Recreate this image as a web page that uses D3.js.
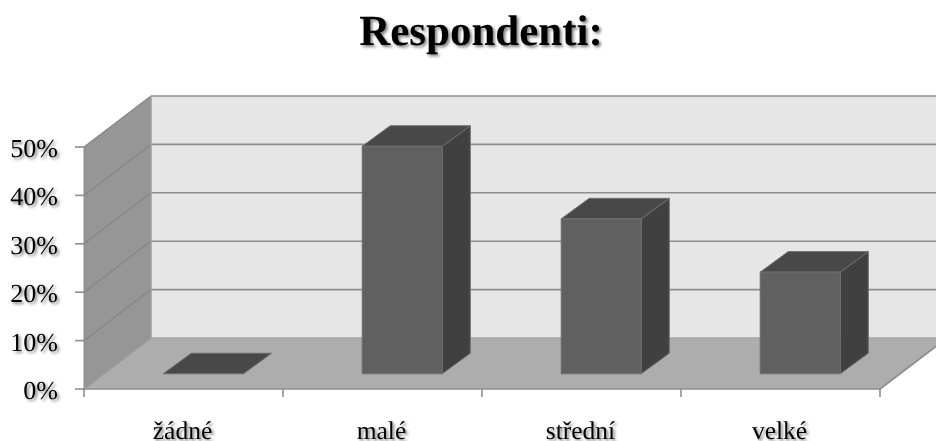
<!DOCTYPE html>
<html><head><meta charset="utf-8">
<script src="https://cdn.jsdelivr.net/npm/d3@7/dist/d3.min.js"></script>
<style>
html,body{margin:0;padding:0;background:#fff;overflow:hidden}
svg{display:block;filter:blur(0.35px)}
text{font-family:"Liberation Serif","Times New Roman",serif;fill:#000;text-rendering:geometricPrecision}
.s{text-shadow:2px 2px 3px rgba(0,0,0,.5)}
</style></head><body>
<svg id="c" width="936" height="441"></svg>
<script>
const categories=["žádné","malé","střední","velké"];
const values=[0,47,32,21];
const yTicks=[0,10,20,30,40,50];
const titleText="Respondenti:";

const svg=d3.select("#c");
const x=d3.scaleBand().domain(categories).range([84,880]).paddingInner(0.6).paddingOuter(0.3);
const y=d3.scaleLinear().domain([0,50]).range([389,147]);
const depthX=67,depthY=-51,barDX=28,barDY=-20.5;
const offX=(depthX-barDX)/2,offY=(depthY-barDY)/2;
const line=pts=>"M"+pts.map(p=>p.join(",")).join("L")+"Z";
const lineC="#8e8e8e";
const x0=84,x1=880,yb=y(0),yt=y(50);

// walls & floor
svg.append("path").attr("d",line([[x0+depthX,yb+depthY],[x1+depthX,yb+depthY],[x1+depthX,yt+depthY],[x0+depthX,yt+depthY]])).attr("fill","#e6e6e6");
svg.append("path").attr("d",line([[x0,yb],[x0+depthX,yb+depthY],[x0+depthX,yt+depthY],[x0,yt]])).attr("fill","#969696");
svg.append("path").attr("d",line([[x0,yb],[x1,yb],[x1+depthX,yb+depthY],[x0+depthX,yb+depthY]])).attr("fill","#adadad");

// gridlines
const g=svg.append("g").attr("fill","none").attr("stroke-width",1.6);
yTicks.forEach(t=>{
  const yy=y(t);
  if(t>0) g.append("line").attr("x1",x0+depthX).attr("x2",936).attr("y1",yy+depthY).attr("y2",yy+depthY).attr("stroke",lineC);
  g.append("line").attr("x1",x0).attr("x2",x0+depthX).attr("y1",yy).attr("y2",yy+depthY).attr("stroke",t===0?"#999":"#858585").attr("stroke-width",1.2);
  g.append("line").attr("x1",x0-9).attr("x2",x0).attr("y1",yy).attr("y2",yy).attr("stroke",lineC);
});
g.append("line").attr("x1",x0+depthX).attr("x2",x0+depthX).attr("y1",yb+depthY).attr("y2",yt+depthY).attr("stroke","#a0a0a0");
g.append("line").attr("x1",x0).attr("x2",x0).attr("y1",yb).attr("y2",yt).attr("stroke","#8a8a8a").attr("stroke-width",1);
g.append("line").attr("x1",x0).attr("x2",x1).attr("y1",yb).attr("y2",yb).attr("stroke",lineC);
g.append("line").attr("x1",x1).attr("x2",x1+depthX).attr("y1",yb).attr("y2",yb+depthY).attr("stroke",lineC);
g.append("line").attr("x1",x0+depthX).attr("x2",936).attr("y1",yb+depthY).attr("y2",yb+depthY).attr("stroke","#a6a6a6");

// x ticks
const step=x.step();
d3.range(categories.length+1).forEach(i=>{
  const tx=x0+i*step;
  g.append("line").attr("x1",tx).attr("x2",tx).attr("y1",yb).attr("y2",yb+8).attr("stroke",lineC);
});

// bars
const bars=svg.append("g").selectAll("g").data(categories.map((c,i)=>({c,v:values[i]}))).join("g");
bars.each(function(d){
  const s=d3.select(this);
  const l=x(d.c)+offX, r=l+x.bandwidth()+0.5;
  const b=yb+offY, t=b-(yb-y(d.v));
  const add=(pts,f)=>s.append("path").attr("d",line(pts)).attr("fill",f).attr("stroke","#6e6e6e").attr("stroke-width",1).attr("stroke-linejoin","round");
  add([[r,b],[r+barDX,b+barDY],[r+barDX,t+barDY],[r,t]],"#404040");
  add([[l,t],[r,t],[r+barDX,t+barDY],[l+barDX,t+barDY]],"#484848");
  if(d.v>0) add([[l,b],[r,b],[r,t],[l,t]],"#606060");
});

// labels
svg.append("g").selectAll("text").data(yTicks).join("text").attr("class","s")
  .attr("x",58).attr("y",d=>y(d)+10).attr("text-anchor","end").attr("font-size",26).text(d=>d+"%");
svg.append("g").selectAll("text").data(categories).join("text").attr("class","s")
  .attr("x",d=>x(d)+x.bandwidth()/2-1).attr("y",439).attr("text-anchor","middle").attr("font-size",25.5).text(d=>d);
svg.append("text").attr("class","s").attr("x",481).attr("y",45).attr("text-anchor","middle")
  .attr("font-size",43).attr("font-weight","bold").text(titleText);
</script></body></html>
